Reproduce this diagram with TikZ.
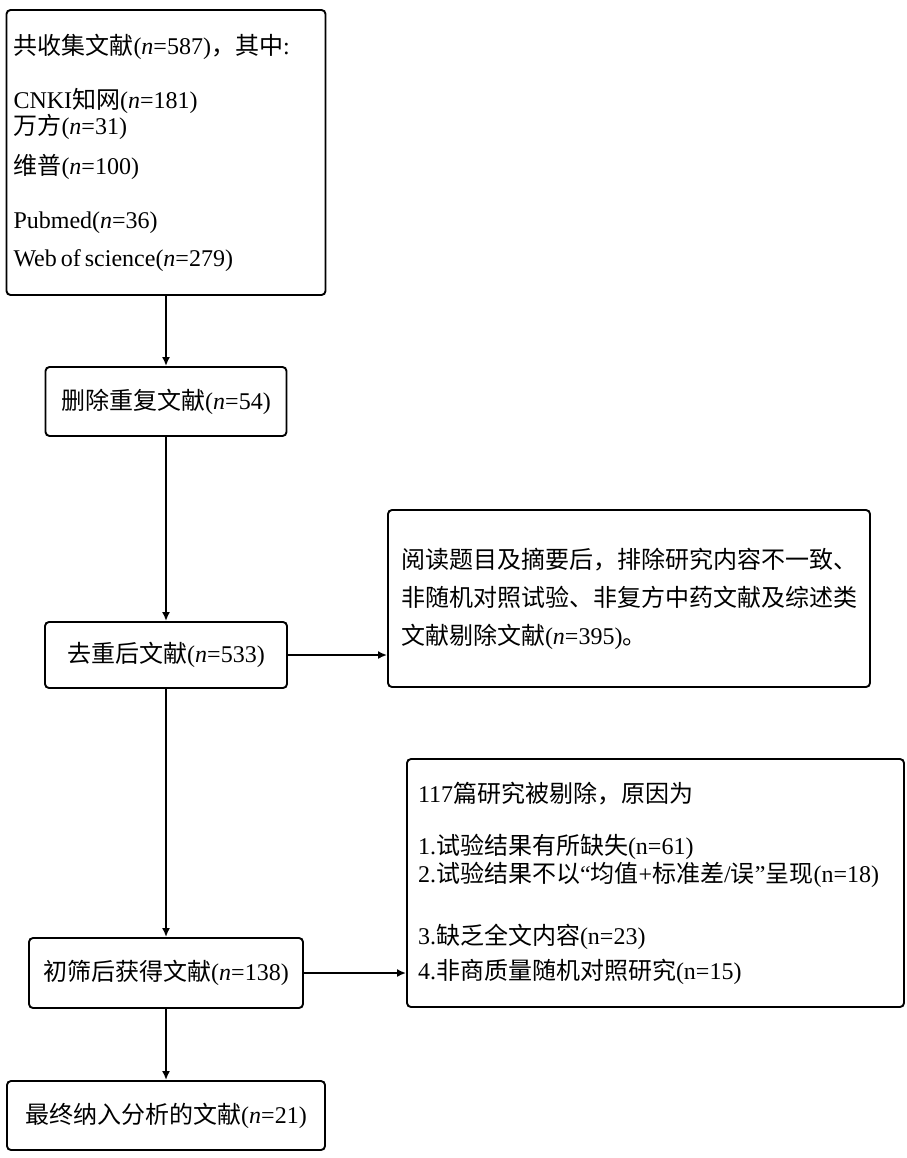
\documentclass[tikz,border=0pt]{standalone}
\usepackage{fontspec}
\setmainfont{Liberation Serif}
\newfontfamily\cjk{Noto Sans CJK SC}
\newcommand{\zh}[1]{{\cjk #1}}
\usetikzlibrary{arrows.meta}

\begin{document}
\begin{tikzpicture}[x=1pt,y=-1pt,
  box/.style={draw, line width=1.9pt, rounded corners=4pt, inner sep=0pt, font=\fontsize{24}{27}\selectfont},
  link/.style={line width=1.9pt, -{Latex[length=9pt,width=8pt]}}]
\useasboundingbox (0,0) rectangle (906,1158);
\node[box, minimum width=319pt, minimum height=285pt, text width=305pt, align=left] (all) at (166,152.5){\zh{共收集文献}(\textit{n}=587)\zh{，其中}:\\[27pt]
CNKI\zh{知网}(\textit{n}=181)\\[-1pt]
\zh{万方}(\textit{n}=31)\\[13pt]
\zh{维普}(\textit{n}=100)\\[27pt]
Pubmed(\textit{n}=36)\\[11pt]
Web\hspace{4pt}of\hspace{4pt}science(\textit{n}=279)};
\node[box, minimum width=241pt, minimum height=69pt] (dup) at (166,401.5){\zh{删除重复文献}(\textit{n}=54)};
\node[box, minimum width=242pt, minimum height=66pt] (dedup) at (166,655){\zh{去重后文献}(\textit{n}=533)};
\node[box, minimum width=482pt, minimum height=177pt, text width=456pt, align=left] (excl1) at (629,598.5){\zh{阅读题目及摘要后，排除研究内容不一致、}\\[11pt]
\zh{非随机对照试验、非复方中药文献及综述类}\\[11pt]
\zh{文献剔除文献}(\textit{n}=395)\zh{。}};
\node[box, minimum width=274pt, minimum height=70pt] (screen) at (166,973){\zh{初筛后获得文献}(\textit{n}=138)};
\node[box, minimum width=497pt, minimum height=248pt, text width=475pt, align=left] (excl2) at (655.5,883){117\zh{篇研究被剔除，原因为}\\[25pt]
1.\zh{试验结果有所缺失}(n=61)\\[1pt]
2.\zh{试验结果不以}“\zh{均值}+\zh{标准差}/\zh{误}”\zh{呈现}(n=18)\\[35pt]
3.\zh{缺乏全文内容}(n=23)\\[8pt]
4.\zh{非商质量随机对照研究}(n=15)};
\node[box, minimum width=318pt, minimum height=69pt] (final) at (166,1115.5){\zh{最终纳入分析的文献}(\textit{n}=21)};
\draw[link] (all) -- (dup);
\draw[link] (dup) -- (dedup);
\draw[link] (dedup) -- (screen);
\draw[link] (screen) -- (final);
\draw[link] (dedup.east) -- (dedup.east -| excl1.west);
\draw[link] (screen.east) -- (screen.east -| excl2.west);
\end{tikzpicture}
\end{document}
